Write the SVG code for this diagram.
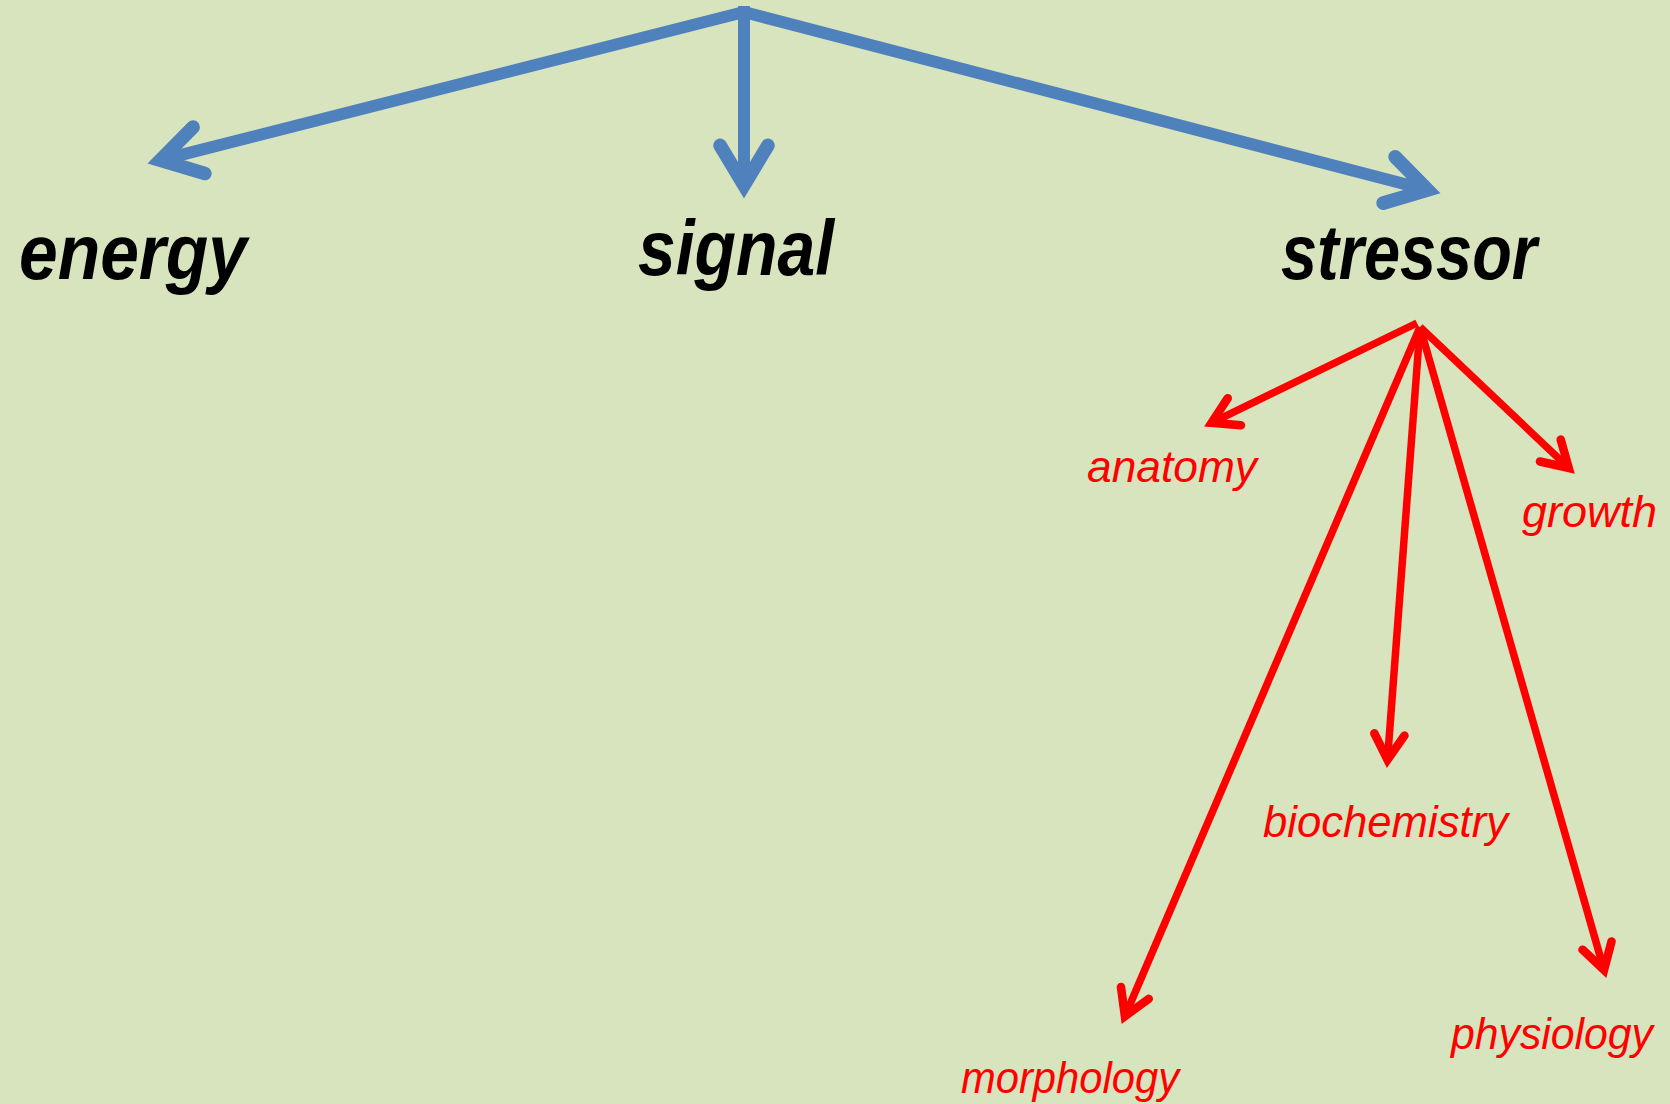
<svg xmlns="http://www.w3.org/2000/svg" width="1670" height="1104" viewBox="0 0 1670 1104">
<style>
.bg{fill:#D7E4BD}
.blue{fill:none;stroke:#4F81BD;stroke-width:12;stroke-linecap:butt}
.red{fill:none;stroke:#FF0000;stroke-width:7.5;stroke-linecap:butt}
.big{font-family:"Liberation Sans",Arial,sans-serif;font-weight:bold;font-style:italic;font-size:78px;fill:#000}
.small{font-family:"Liberation Sans",Arial,sans-serif;font-style:italic;font-size:44px;fill:#FF0000}
</style>
<defs>
<marker id="mb" markerUnits="strokeWidth" orient="auto" refX="0" refY="0" markerWidth="8" markerHeight="8" viewBox="-5 -3.5 7 7" overflow="visible">
<path d="M-2.9,-1.74 L0,0 L-2.9,1.74" fill="none" stroke="#4F81BD" stroke-width="1" stroke-linecap="round" stroke-linejoin="miter" stroke-miterlimit="10"/>
</marker>
<marker id="mr" markerUnits="strokeWidth" orient="auto" refX="0" refY="0" markerWidth="8" markerHeight="8" viewBox="-5 -3.5 7 7" overflow="visible">
<path d="M-2.95,-1.76 L0,0 L-2.95,1.76" fill="none" stroke="#FF0000" stroke-width="1" stroke-linecap="round" stroke-linejoin="miter" stroke-miterlimit="10"/>
</marker>
</defs>
<rect class="bg" x="0" y="0" width="1670" height="1104"/>
<g id="connectors">
<path class="blue" d="M744,12 L160.4,160.1" marker-end="url(#mb)"/>
<path class="blue" d="M744,12 L1427.6,190" marker-end="url(#mb)"/>
<path class="blue" d="M744,6 L744,185.2" marker-end="url(#mb)"/>
<path class="red" d="M1417,323 L1211.6,422.8" marker-end="url(#mr)"/>
<path class="red" d="M1420,327 L1568.7,467.9" marker-end="url(#mr)"/>
<path class="red" d="M1420,327 L1387.5,759.7" marker-end="url(#mr)"/>
<path class="red" d="M1420,327 L1124.9,1016.2" marker-end="url(#mr)"/>
<path class="red" d="M1420,327 L1604,969.9" marker-end="url(#mr)"/>
</g>
<g id="energy"><text class="big" x="19" y="279" textLength="228" lengthAdjust="spacingAndGlyphs">energy</text></g>
<g id="signal"><text class="big" x="638" y="275" textLength="196" lengthAdjust="spacingAndGlyphs">signal</text></g>
<g id="stressor"><text class="big" x="1281" y="279" textLength="256" lengthAdjust="spacingAndGlyphs">stressor</text></g>
<g id="anatomy"><text class="small" x="1087" y="482" textLength="170" lengthAdjust="spacingAndGlyphs">anatomy</text></g>
<g id="growth"><text class="small" x="1522" y="527" textLength="135" lengthAdjust="spacingAndGlyphs">growth</text></g>
<g id="biochemistry"><text class="small" x="1263" y="837" textLength="245" lengthAdjust="spacingAndGlyphs">biochemistry</text></g>
<g id="physiology"><text class="small" x="1451" y="1049" textLength="202" lengthAdjust="spacingAndGlyphs">physiology</text></g>
<g id="morphology"><text class="small" x="961" y="1093" textLength="218" lengthAdjust="spacingAndGlyphs">morphology</text></g>
</svg>
